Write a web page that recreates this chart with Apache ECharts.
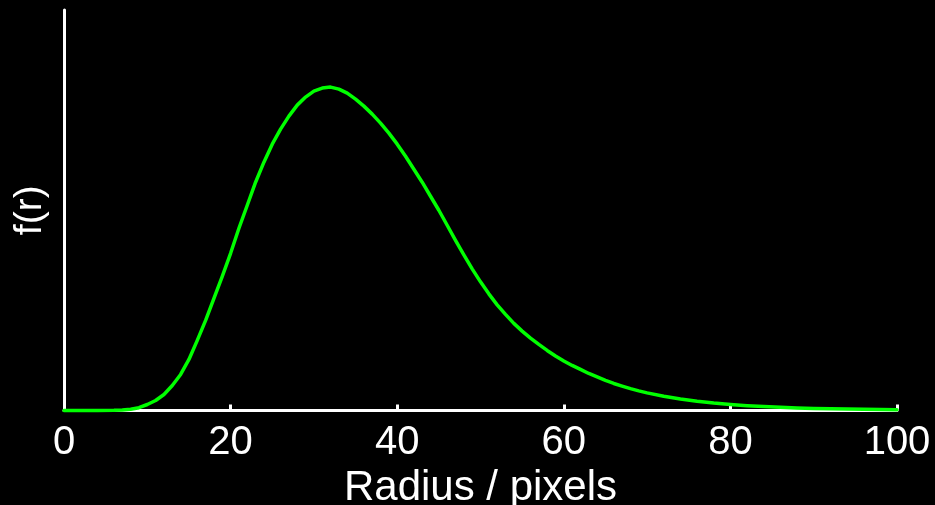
<!DOCTYPE html>
<html>
<head>
<meta charset="utf-8">
<script src="https://cdn.jsdelivr.net/npm/echarts@6/dist/echarts.min.js"></script>
<style>
html,body{margin:0;padding:0;background:#000;}
#chart{width:935px;height:505px;}
</style>
</head>
<body>
<div id="chart"></div>
<script>
// Radius values (pixels)
const radius = [0,2,4,6,7,8,9,10,11,12,13,14,15,16,17,18,19,20,21,22,23,24,25,26,27,28,29,30,31,32,33,34,35,36,37,38,39,40,41,42,43,44,45,46,47,48,49,50,51,52,53,54,55,56,57,58,59,60,61,62,63,64,65,66,67,68,69,70,72,74,76,78,80,82,84,86,88,90,92,94,96,98,100];
// f(r), arbitrary units
const density = [0,0,0,0.2,0.5,1.2,2.8,6,10,16,25,36,51,70,90,112,134,157,182,205,228,248,266,281,294,305,313,319,322,323,321,317,311,304,296,287,277,266,254,241,228,214,200,185,170,155.5,141.5,128.5,116.5,105.5,96,87,79.3,72.3,66,60,54.5,49.5,45,41,37,33.5,30,27,24.3,21.8,19.6,17.6,14.2,11.4,9.2,7.4,6,4.8,3.9,3.2,2.6,2.1,1.7,1.4,1.15,0.95,0.8];
const xTicks = [0,20,40,60,80,100];
const xTitle = 'Radius / pixels';
const yTitle = 'f(r)';

const chart = echarts.init(document.getElementById('chart'), null, {renderer:'canvas'});
const font = 'Liberation Sans, Arial, Helvetica, sans-serif';
chart.setOption({
  backgroundColor:'#000',
  animation:false,
  grid:{left:64, right:38, top:10, bottom:94.5, containLabel:false, outerBoundsMode:'none'},
  xAxis:{
    type:'value', min:xTicks[0], max:xTicks[xTicks.length-1], interval:20,
    axisLine:{show:true, lineStyle:{color:'#fff', width:3}},
    axisTick:{show:true, inside:true, length:6, lineStyle:{color:'#fff', width:3}},
    axisLabel:{color:'#fff', fontSize:40, fontFamily:font, margin:12},
    splitLine:{show:false},
    name:xTitle, nameLocation:'middle', nameGap:55,
    nameTextStyle:{color:'#fff', fontSize:42, fontFamily:font}
  },
  yAxis:{
    type:'value', min:0, max:400,
    axisLine:{show:true, onZero:false, lineStyle:{color:'#fff', width:3}},
    axisTick:{show:false}, axisLabel:{show:false}, splitLine:{show:false},
    name:yTitle, nameLocation:'middle', nameGap:14, nameRotate:90,
    nameTextStyle:{color:'#fff', fontSize:39, fontFamily:font}
  },
  series:[{
    type:'line', data:radius.map((r,i)=>[r,density[i]]),
    smooth:false, showSymbol:false, clip:false,
    lineStyle:{color:'#00ff00', width:3.5, join:'round', cap:'round'}
  }]
});
</script>
</body>
</html>
